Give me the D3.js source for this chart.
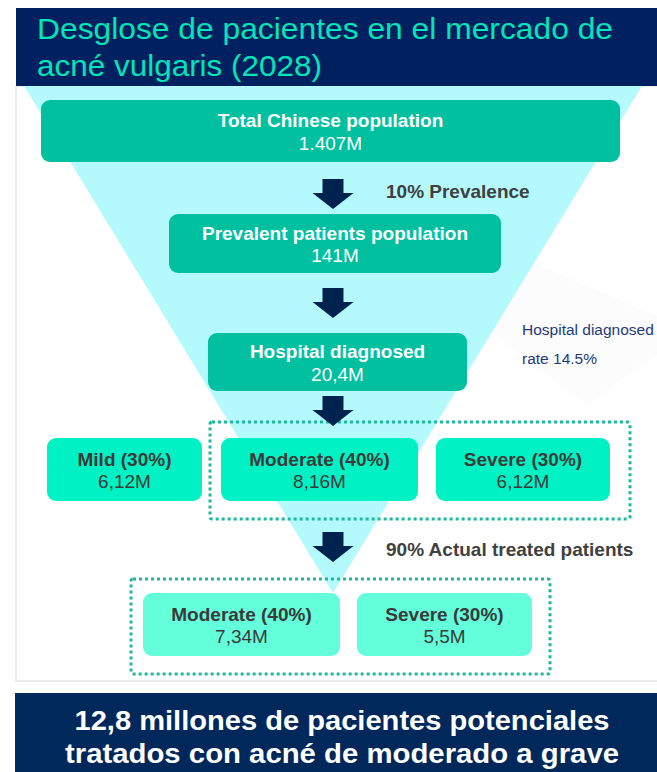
<!DOCTYPE html>
<html>
<head>
<meta charset="utf-8">
<script src="https://cdn.jsdelivr.net/npm/d3@7"></script>
<style>
  body { margin: 0; background: #fff; }
  svg { display: block; font-family: Arial, "Liberation Sans", sans-serif; }
</style>
</head>
<body>
<svg id="funnel"></svg>
<script>
// chart text / values
var titleLines = ["Desglose de pacientes en el mercado de", "acné vulgaris (2028)"];
var stageLabels = ["Total Chinese population", "Prevalent patients population", "Hospital diagnosed"];
var stageValues = ["1.407M", "141M", "20,4M"];
var stepLabels = ["10% Prevalence", "", "", "90% Actual treated patients"];
var noteLines = ["Hospital diagnosed", "rate 14.5%"];
var severityLabels = ["Mild (30%)", "Moderate (40%)", "Severe (30%)"];
var severityValues = ["6,12M", "8,16M", "6,12M"];
var treatedLabels = ["Moderate (40%)", "Severe (30%)"];
var treatedValues = ["7,34M", "5,5M"];
var footerLines = ["12,8 millones de pacientes potenciales", "tratados con acné de moderado a grave"];

// basic settings
var width = 657, height = 772;
var cx = 333;
var navy = "#002060";

var svg = d3.select("#funnel").attr("width", width).attr("height", height);

// layout (pixel positions of the infographic pieces)
var stageBoxes = [[41, 620, 100, 162], [169, 501, 214, 273], [208, 467, 333, 391]];
var severityX = [[47, 202], [221, 418], [436, 610]];
var severityY = [438, 501];
var treatedX = [[143, 340], [357, 532]];
var treatedY = [593, 656];
var arrowTops = [179, 288, 396, 532];
var stepY = [198, 0, 0, 556];
var titleLen = [576, 285];
var footerLen = [535, 554];

// panel border
svg.append("rect").attr("x", 16).attr("y", 86).attr("width", width).attr("height", 595)
    .attr("fill", "#fff").attr("stroke", "#ececec").attr("stroke-width", 2);

// faint diamond behind the note
svg.append("polygon")
    .attr("points", "510,253 473,318 587,405 690,330")
    .attr("fill", "#fcfcfc");

// funnel triangle
svg.append("polygon")
    .attr("points", [[24, 86], [642, 86], [cx, 593]].map(function(p) { return p.join(","); }).join(" "))
    .attr("fill", "#b4fafc");

// title bar
svg.append("rect").attr("x", 16).attr("y", 8).attr("width", width - 16).attr("height", 78).attr("fill", navy);
svg.selectAll(".title").data(titleLines).enter().append("text")
    .attr("class", "title")
    .attr("x", 37)
    .attr("y", function(d, i) { return 39 + i * 37; })
    .attr("font-size", 30)
    .attr("textLength", function(d, i) { return titleLen[i]; })
    .attr("lengthAdjust", "spacingAndGlyphs")
    .attr("fill", "#00e5b9")
    .text(function(d) { return d; });

// dotted groups
function dotted(x0, x1, y0, y1) {
    svg.append("rect")
        .attr("x", x0).attr("y", y0).attr("width", x1 - x0).attr("height", y1 - y0)
        .attr("rx", 2)
        .attr("fill", "none")
        .attr("stroke", "#1cb99c")
        .attr("stroke-width", 3)
        .attr("stroke-dasharray", "3,3");
}
dotted(210, 630, 422, 519);
dotted(131, 550, 579, 674);

// generic box with label + value
function box(x0, x1, y0, y1, fill, txtColor, label, value) {
    var g = svg.append("g");
    g.append("rect")
        .attr("x", x0).attr("y", y0).attr("width", x1 - x0).attr("height", y1 - y0)
        .attr("rx", 9)
        .attr("fill", fill);
    var mid = (x0 + x1) / 2, cy = (y0 + y1) / 2;
    g.append("text")
        .attr("x", mid).attr("y", cy - 4)
        .attr("text-anchor", "middle")
        .attr("font-size", 19).attr("font-weight", "bold")
        .attr("fill", txtColor)
        .text(label);
    g.append("text")
        .attr("x", mid).attr("y", cy + 18.5)
        .attr("text-anchor", "middle")
        .attr("font-size", 19)
        .attr("fill", txtColor)
        .text(value);
}

stageLabels.forEach(function(d, i) {
    var b = stageBoxes[i];
    box(b[0], b[1], b[2], b[3], "#00c0a0", "#ffffff", d, stageValues[i]);
});
severityLabels.forEach(function(d, i) {
    box(severityX[i][0], severityX[i][1], severityY[0], severityY[1], "#00f2c4", "#3a3a3a", d, severityValues[i]);
});
treatedLabels.forEach(function(d, i) {
    box(treatedX[i][0], treatedX[i][1], treatedY[0], treatedY[1], "#62ffda", "#3a3a3a", d, treatedValues[i]);
});

// arrows
var arrow = d3.line()([[-10.5, 0], [10.5, 0], [10.5, 14], [20.5, 14], [0, 30], [-20.5, 14], [-10.5, 14]]) + "Z";
svg.selectAll(".arrow").data(arrowTops).enter().append("path")
    .attr("class", "arrow")
    .attr("transform", function(d) { return "translate(" + cx + "," + d + ")"; })
    .attr("d", arrow)
    .attr("fill", "#00224f");

// step labels beside the arrows
svg.selectAll(".step").data(stepLabels).enter().append("text")
    .attr("class", "step")
    .attr("x", 386)
    .attr("y", function(d, i) { return stepY[i]; })
    .attr("font-size", 19).attr("font-weight", "bold")
    .attr("fill", "#404040")
    .text(function(d) { return d; });

// note on the right (kept just inside the edge)
svg.selectAll(".note").data(noteLines).enter().append("text")
    .attr("class", "note")
    .attr("x", 522)
    .attr("y", function(d, i) { return 335 + i * 29; })
    .attr("font-size", 15.5)
    .attr("fill", "#1f3a7a")
    .text(function(d) { return d; });

// footer
svg.append("rect").attr("x", 15).attr("y", 693).attr("width", width - 15).attr("height", 79).attr("fill", "#00285a");
svg.selectAll(".footer").data(footerLines).enter().append("text")
    .attr("class", "footer")
    .attr("x", 342)
    .attr("y", function(d, i) { return 730 + i * 33; })
    .attr("text-anchor", "middle")
    .attr("font-size", 28).attr("font-weight", "bold")
    .attr("textLength", function(d, i) { return footerLen[i]; })
    .attr("lengthAdjust", "spacingAndGlyphs")
    .attr("fill", "#ffffff")
    .text(function(d) { return d; });
</script>
</body>
</html>
